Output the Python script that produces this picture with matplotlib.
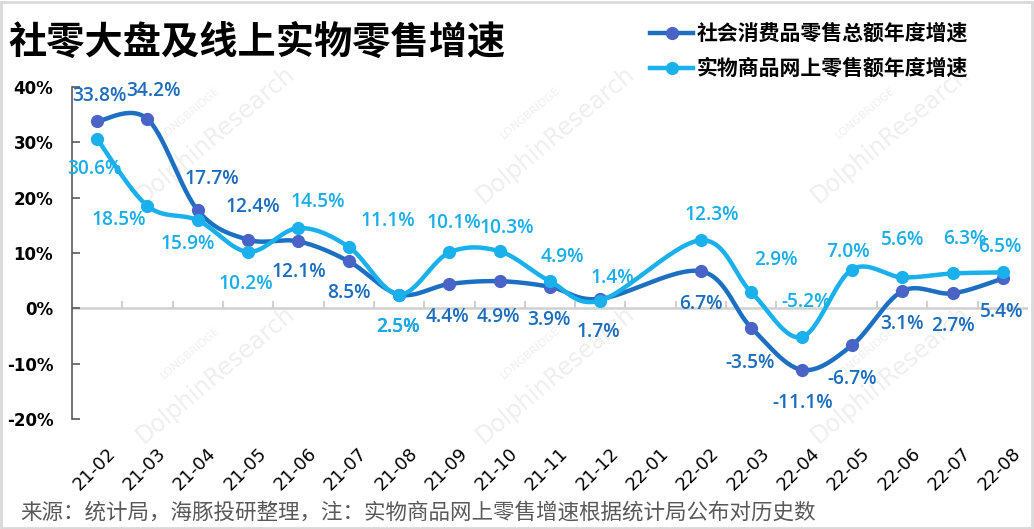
import matplotlib
matplotlib.use("Agg")
import matplotlib.pyplot as plt
import matplotlib.transforms as mtrans
import numpy as np
from matplotlib.lines import Line2D
from matplotlib.patches import Rectangle

plt.rcParams['font.family'] = ['Noto Sans CJK SC', 'DejaVu Sans']

# data (22-01 not published -> None)
months = ['21-02', '21-03', '21-04', '21-05', '21-06', '21-07', '21-08', '21-09', '21-10',
          '21-11', '21-12', '22-01', '22-02', '22-03', '22-04', '22-05', '22-06', '22-07', '22-08']
retail_total = [33.8, 34.2, 17.7, 12.4, 12.1, 8.5, 2.5, 4.4, 4.9, 3.9, 1.7, None,
                6.7, -3.5, -11.1, -6.7, 3.1, 2.7, 5.4]
online_goods = [30.6, 18.5, 15.9, 10.2, 14.5, 11.1, 2.5, 10.1, 10.3, 4.9, 1.4, None,
                12.3, 2.9, -5.2, 7.0, 5.6, 6.3, 6.5]
series_names = ['社会消费品零售总额年度增速', '实物商品网上零售额年度增速']

# label offsets in pixels (dx, dy)
off_total = [(2, 25), (6, 28), (14, 31), (5, 33), (0, -31), (0, -32), (-1, -33), (-2, -33),
             (-1, -36), (-1, -33), (-2, -33), None, (0, -33), (-1, -35), (1, -33), (0, -34),
             (0, -33), (0, -33), (-1, -34)]
off_online = [(-3, -30), (-29, -14), (-10, -24), (-2, -32), (19, 26), (39, 26), (-1, -33),
              (4, 29), (7, 23), (12, 24), (12, 23), None, (11, 25), (25, 32), (5, 35),
              (-4, 18), (0, 37), (12, 34), (-3, 25)]

DARK, DARK_MK, DARK_TXT = '#1c6fc1', '#4a63c6', '#1c6dbe'
LIGHT, LIGHT_TXT = '#19b0ec', '#19aeea'


def smooth(xs, ys, n=30):
    # Bezier smoothing through points (Catmull-Rom style, like Excel's smoothed line)
    p = np.column_stack([xs, ys]).astype(float)
    p = np.vstack([p[0], p, p[-1]])
    out = []
    for i in range(1, len(p) - 2):
        p0, p1, p2, p3 = p[i - 1], p[i], p[i + 1], p[i + 2]
        c1 = p1 + (p2 - p0) / 6
        c2 = p2 - (p3 - p1) / 6
        t = np.linspace(0, 1, n)[:, None]
        seg = (1 - t) ** 3 * p1 + 3 * (1 - t) ** 2 * t * c1 + 3 * (1 - t) * t ** 2 * c2 + t ** 3 * p2
        out.append(seg if i == 1 else seg[1:])
    out = np.vstack(out)
    return out[:, 0], out[:, 1]


W, H = 1034, 529
fig = plt.figure(figsize=(W / 100, H / 100), dpi=100)
ax = fig.add_axes([72 / W, (H - 419) / H, (1028 - 72) / W, 332 / H])
ax.patch.set_visible(False)

# watermarks (behind the chart)
for (wx, wy) in [(215, 135), (555, 135), (890, 135), (215, 375), (555, 375), (890, 375)]:
    fig.text(wx / W, 1 - wy / H, 'DolphinResearch', rotation=40, fontsize=17, color='#efefef',
             ha='center', va='center', family='DejaVu Sans', zorder=-2)
    fig.text((wx - 25) / W, 1 - (wy - 22) / H, 'LONGBRIDGE', rotation=40, fontsize=8,
             color='#efefef', ha='center', va='center', family='DejaVu Sans', zorder=-2)

x = np.arange(len(months))
styles = [(retail_total, off_total, DARK, DARK_MK, DARK_TXT),
          (online_goods, off_online, LIGHT, LIGHT, LIGHT_TXT)]
for k, (vals, offs, lc, mc, tc) in enumerate(styles):
    idx = [i for i, v in enumerate(vals) if v is not None]
    xv = x[idx]
    yv = np.array([vals[i] for i in idx])
    sx, sy = smooth(xv, yv)
    ax.plot(sx, sy, color=lc, lw=3.2, zorder=3 + k, solid_capstyle='round')
    ax.plot(xv, yv, 'o', color=mc, ms=8.5, zorder=3 + k)
    for i in idx:
        ax.annotate(f'{vals[i]:.1f}%', (x[i], vals[i]), xytext=offs[i], textcoords='offset pixels',
                    ha='center', va='center', fontsize=13.8, color=tc, family='Open Sans',
                    fontweight='semibold', zorder=6)

ax.set_xlim(-0.5, len(months) - 0.5)
ax.set_ylim(-20, 40)
ax.set_yticks(np.arange(-20, 41, 10))
ax.set_yticklabels([f'{v}%' for v in range(-20, 41, 10)], fontsize=12, fontweight='bold',
                   family='DejaVu Sans')
ax.tick_params(axis='y', direction='in', length=6, color='#595959', width=1.2, pad=13.5)
for s in ['top', 'right', 'bottom']:
    ax.spines[s].set_visible(False)
ax.spines['left'].set_color('#595959')
ax.spines['left'].set_linewidth(1.2)

# category axis drawn at zero
ax.axhline(0, color='#d0d0d0', lw=1.8, zorder=1)
ax.vlines(x[:-1] + 0.5, 0, 1.3, color='#d0d0d0', lw=1.5, zorder=1)
ax.set_xticks(x)
ax.set_xticklabels(months, rotation=45, ha='right', rotation_mode='anchor', fontsize=13,
                   family='DejaVu Sans')
ax.tick_params(axis='x', length=0, pad=18)
for lab in ax.get_xticklabels():
    lab.set_transform(lab.get_transform() + mtrans.ScaledTranslation(0.09, 0, fig.dpi_scale_trans))

# title, legend, footer
fig.text(8 / W, 1 - 42 / H, '社零大盘及线上实物零售增速', fontsize=27.5, fontweight='heavy',
         va='center', ha='left', color='black')
for j, (nm, lc, mc) in enumerate([(series_names[0], DARK, DARK_MK), (series_names[1], LIGHT, LIGHT)]):
    yy = 1 - (33 + 35 * j) / H
    fig.add_artist(Line2D([650 / W, 693 / W], [yy, yy], color=lc, lw=3.2, transform=fig.transFigure))
    fig.add_artist(Line2D([672 / W], [yy], marker='o', color=mc, ms=8.5, transform=fig.transFigure))
    fig.text(697 / W, yy, nm, fontsize=15, fontweight='bold', va='center', ha='left', color='black')

fig.text(20 / W, 1 - 513 / H, '来源：统计局，海豚投研整理，注：实物商品网上零售增速根据统计局公布对历史数',
         fontsize=15.5, color='#595959', va='center', ha='left')

fig.add_artist(Rectangle((0.001, 0.002), 0.997, 0.995, transform=fig.transFigure, fill=False,
                         edgecolor='#d9d9d9', lw=2))

fig.savefig('out.png', dpi=100)
